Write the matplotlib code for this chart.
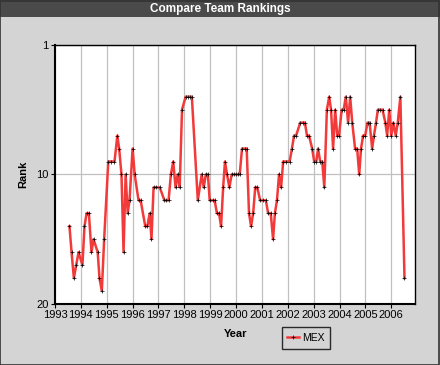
import matplotlib
matplotlib.use("Agg")
import matplotlib.pyplot as plt
import matplotlib.patches as mpatches
from matplotlib.lines import Line2D

plt.rcParams["font.family"] = ["Liberation Sans", "DejaVu Sans"]

# Mexico ranking readings (decimal year, rank)
years = [
    1993.56, 1993.64, 1993.73, 1993.82, 1993.91, 1994.06, 1994.14, 1994.22, 1994.31, 1994.41,
    1994.49, 1994.65, 1994.72, 1994.81, 1994.90, 1995.06, 1995.17, 1995.30, 1995.41, 1995.48,
    1995.57, 1995.65, 1995.73, 1995.81, 1995.88, 1996.00, 1996.08, 1996.23, 1996.31, 1996.49,
    1996.57, 1996.66, 1996.73, 1996.81, 1996.91, 1997.05, 1997.23, 1997.31, 1997.39, 1997.48,
    1997.57, 1997.66, 1997.74, 1997.82, 1997.91, 1998.05, 1998.13, 1998.21, 1998.29, 1998.52,
    1998.67, 1998.75, 1998.83, 1998.91, 1998.98, 1999.09, 1999.17, 1999.26, 1999.34, 1999.42,
    1999.50, 1999.57, 1999.65, 1999.74, 1999.83, 1999.91, 1999.98, 2000.06, 2000.14, 2000.23,
    2000.34, 2000.41, 2000.50, 2000.58, 2000.66, 2000.74, 2000.82, 2000.93, 2001.04, 2001.15,
    2001.24, 2001.34, 2001.43, 2001.50, 2001.58, 2001.66, 2001.74, 2001.82, 2001.93, 2002.07,
    2002.16, 2002.24, 2002.32, 2002.48, 2002.57, 2002.66, 2002.74, 2002.82, 2002.94, 2003.02,
    2003.10, 2003.17, 2003.25, 2003.33, 2003.41, 2003.51, 2003.60, 2003.67, 2003.75, 2003.83,
    2003.91, 2003.98, 2004.08, 2004.16, 2004.24, 2004.33, 2004.41, 2004.49, 2004.60, 2004.68,
    2004.76, 2004.83, 2004.91, 2004.99, 2005.08, 2005.16, 2005.26, 2005.33, 2005.41, 2005.48,
    2005.57, 2005.66, 2005.77, 2005.84, 2005.92, 2006.00, 2006.08, 2006.17, 2006.25, 2006.35,
    2006.51,
]
ranks = [
    14, 16, 18, 17, 16, 17, 14, 13, 13, 16,
    15, 16, 18, 19, 15, 9, 9, 9, 7, 8,
    10, 16, 10, 13, 12, 8, 10, 12, 12, 14,
    14, 13, 15, 11, 11, 11, 12, 12, 12, 10,
    9, 11, 10, 11, 5, 4, 4, 4, 4, 12,
    10, 11, 10, 10, 12, 12, 12, 13, 13, 14,
    11, 9, 10, 11, 10, 10, 10, 10, 10, 8,
    8, 8, 13, 14, 13, 11, 11, 12, 12, 12,
    13, 13, 15, 13, 12, 10, 11, 9, 9, 9,
    8, 7, 7, 6, 6, 6, 7, 7, 8, 9,
    9, 8, 9, 9, 11, 5, 4, 5, 8, 5,
    7, 7, 5, 5, 4, 6, 4, 6, 8, 8,
    10, 8, 7, 7, 6, 6, 8, 7, 6, 5,
    5, 5, 6, 7, 5, 7, 6, 7, 6, 4,
    18,
]
team = "MEX"
year_ticks = list(range(1993, 2007))
rank_ticks = [0, 10, 20]
rank_labels = ["1", "10", "20"]

bg = "#d4d4d4"
fig = plt.figure(figsize=(4.4, 3.65), dpi=100, facecolor=bg)

# title bar
fig.patches.append(mpatches.Rectangle((0, 0.953), 1, 0.047, transform=fig.transFigure,
                                      facecolor="#4a4a4a", edgecolor="none", zorder=0))
fig.patches.append(mpatches.Rectangle((0.001, 0.001), 0.997, 0.997, transform=fig.transFigure,
                                      facecolor="none", edgecolor="#333333", lw=1.2, zorder=5))
fig.text(0.5, 0.976, "Compare Team Rankings", color="white", fontweight="bold",
         fontsize=8.5, ha="center", va="center")

ax = fig.add_axes([0.125, 0.167, 0.819, 0.710])
ax.set_facecolor("white")
ax.plot(years, ranks, color="#f23a3a", lw=1.8, marker="+", markersize=2.5,
        markeredgecolor="black", markeredgewidth=0.5, zorder=3)

ax.set_xlim(1993, 2006.93)
ax.set_ylim(20, 0)
ax.set_xticks(year_ticks)
ax.set_xticklabels([str(y) for y in year_ticks])
ax.set_yticks(rank_ticks)
ax.set_yticklabels(rank_labels)
ax.grid(True, color="#c0c0c0", lw=0.9)
ax.set_axisbelow(True)
ax.tick_params(axis="both", labelsize=8, length=3, width=0.8, pad=1.5, colors="black")
for s in ax.spines.values():
    s.set_color("black")
    s.set_linewidth(1.0)
ax.spines["left"].set_linewidth(1.5)
ax.spines["bottom"].set_linewidth(1.5)

ax.set_xlabel("Year", fontsize=8, fontweight="bold", labelpad=6)
ax.set_ylabel("Rank", fontsize=8, fontweight="bold", labelpad=6)

handle = Line2D([], [], color="#f23a3a", lw=1.8, marker="+", markersize=2.5,
                markeredgecolor="black", markeredgewidth=0.5)
leg = fig.legend([handle], [team], loc="center", bbox_to_anchor=(0.695, 0.074),
                 fontsize=7.5, frameon=True, fancybox=False, handlelength=1.1,
                 handletextpad=0.3, borderpad=0.55)
leg.get_frame().set_facecolor(bg)
leg.get_frame().set_edgecolor("black")
leg.get_frame().set_linewidth(1.0)

fig.savefig("out.png", dpi=100, facecolor=bg)
